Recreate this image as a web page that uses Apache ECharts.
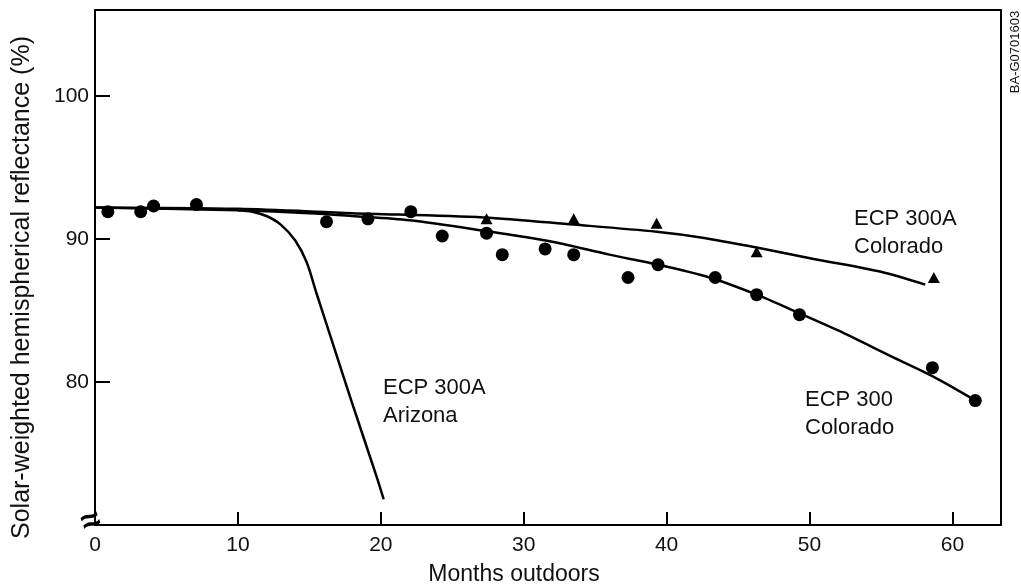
<!DOCTYPE html>
<html>
<head>
<meta charset="utf-8">
<script src="https://cdn.jsdelivr.net/npm/echarts@6/dist/echarts.min.js"></script>
<style>
  html, body { margin: 0; padding: 0; background: #fff; }
  #chart { width: 1021px; height: 588px; }
</style>
</head>
<body>
<div id="chart"></div>
<script>
// measured points, ECP 300 Colorado (circles)
var ecp300Months = [0.9, 3.2, 4.1, 7.1, 16.2, 19.1, 22.1, 24.3, 27.4, 28.5, 31.5, 33.5, 37.3, 39.4, 43.4, 46.3, 49.3, 58.6, 61.6];
var ecp300Refl   = [91.9, 91.9, 92.3, 92.4, 91.2, 91.4, 91.9, 90.2, 90.4, 88.9, 89.3, 88.9, 87.3, 88.2, 87.3, 86.1, 84.7, 81.0, 78.7];

// measured points, ECP 300A Colorado (triangles)
var ecp300aMonths = [27.4, 33.5, 39.3, 46.3, 58.7];
var ecp300aRefl   = [91.4, 91.4, 91.1, 89.1, 87.3];

// fitted curves
var fit300Months = [0, 5, 10, 15, 18, 22, 27, 32, 36, 39.4, 43, 46.3, 49.3, 52, 55.9, 58.6, 61.6];
var fit300Refl   = [92.2, 92.1, 92.0, 91.8, 91.6, 91.3, 90.6, 89.8, 88.9, 88.2, 87.3, 86.1, 84.8, 83.6, 81.7, 80.4, 78.7];

var fit300aMonths = [0, 10, 18, 27.2, 33.5, 39.3, 42.4, 46.3, 50.3, 55, 58.1];
var fit300aRefl   = [92.2, 92.1, 91.8, 91.5, 91.0, 90.5, 90.1, 89.4, 88.6, 87.7, 86.8];

var arizonaMonths = [10, 11, 12, 13, 14, 14.8, 15.5, 16.7, 17.9, 19.7, 20.2];
var arizonaRefl   = [92.0, 91.9, 91.6, 91.0, 89.9, 88.4, 86.2, 82.5, 78.8, 73.4, 71.8];

var xTicks = [0, 10, 20, 30, 40, 50, 60];
var yTicks = [80, 90, 100];

function pairs(xs, ys) {
  return xs.map(function (x, i) { return [x, ys[i]]; });
}

var font = "'Liberation Sans', Arial, Helvetica, sans-serif";
var chart = echarts.init(document.getElementById('chart'));

var lineStyle = { color: '#000', width: 2.5 };

chart.setOption({
  animation: false,
  backgroundColor: '#fff',
  grid: {
    left: 95, right: 20, top: 10, bottom: 63,
    outerBoundsMode: 'none', containLabel: false,
    show: true, borderColor: '#000', borderWidth: 2
  },
  xAxis: {
    type: 'value', min: 0, max: 63.4, interval: 10,
    name: 'Months outdoors', nameLocation: 'middle', nameGap: 38,
    nameTextStyle: { color: '#111', fontSize: 23, fontFamily: font, padding: [0, 68, 0, 0] },
    axisLine: { lineStyle: { color: '#000', width: 2 } },
    axisTick: { inside: true, length: 13, lineStyle: { color: '#000', width: 2 } },
    axisLabel: {
      color: '#111', fontSize: 21, fontFamily: font, margin: 10, showMaxLabel: false,
      formatter: function (v) { return xTicks.indexOf(v) >= 0 ? String(v) : ''; }
    },
    splitLine: { show: false }
  },
  yAxis: {
    type: 'value', min: 70, max: 106, interval: 10,
    name: 'Solar-weighted hemispherical reflectance (%)', nameLocation: 'middle', nameGap: 60,
    nameTextStyle: { color: '#111', fontSize: 25, fontFamily: font, padding: [0, 40, 0, 0] },
    axisLine: { lineStyle: { color: '#000', width: 2 } },
    axisTick: { inside: true, length: 15, lineStyle: { color: '#000', width: 2 } },
    axisLabel: {
      color: '#111', fontSize: 21, fontFamily: font, margin: 6, showMaxLabel: false,
      formatter: function (v) { return yTicks.indexOf(v) >= 0 ? String(v) : ''; }
    },
    splitLine: { show: false }
  },
  series: [
    {
      name: 'ECP 300 Colorado fit', type: 'line', data: pairs(fit300Months, fit300Refl),
      smooth: 0.3, showSymbol: false, lineStyle: lineStyle, z: 2
    },
    {
      name: 'ECP 300A Colorado fit', type: 'line', data: pairs(fit300aMonths, fit300aRefl),
      smooth: 0.3, showSymbol: false, lineStyle: lineStyle, z: 2
    },
    {
      name: 'ECP 300A Arizona fit', type: 'line', data: pairs(arizonaMonths, arizonaRefl),
      smooth: 0.3, showSymbol: false, lineStyle: lineStyle, z: 2
    },
    {
      name: 'ECP 300 Colorado', type: 'scatter', data: pairs(ecp300Months, ecp300Refl),
      symbol: 'circle', symbolSize: 13, itemStyle: { color: '#000', opacity: 1 }, z: 3
    },
    {
      name: 'ECP 300A Colorado', type: 'scatter', data: pairs(ecp300aMonths, ecp300aRefl),
      symbol: 'triangle', symbolSize: [12, 11], itemStyle: { color: '#000', opacity: 1 }, z: 3
    }
  ],
  graphic: [
    { type: 'text', left: 383, top: 374, style: { text: 'ECP 300A\nArizona', font: '22px ' + font, fill: '#111', lineHeight: 28 } },
    { type: 'text', left: 854, top: 205, style: { text: 'ECP 300A\nColorado', font: '22px ' + font, fill: '#111', lineHeight: 28 } },
    { type: 'text', left: 805, top: 386, style: { text: 'ECP 300\nColorado', font: '22px ' + font, fill: '#111', lineHeight: 28 } },
    { type: 'text', x: 1015, y: 52, rotation: Math.PI / 2,
      style: { text: 'BA-G0701603', font: '13px ' + font, fill: '#111', align: 'center', verticalAlign: 'middle' } },
    { type: 'text', x: 91, y: 522, rotation: 0.35, z: 10,
      style: { text: '\u2248', font: 'bold 34px ' + font, fill: '#000', align: 'center', verticalAlign: 'middle' } }
  ]
});
</script>
</body>
</html>
